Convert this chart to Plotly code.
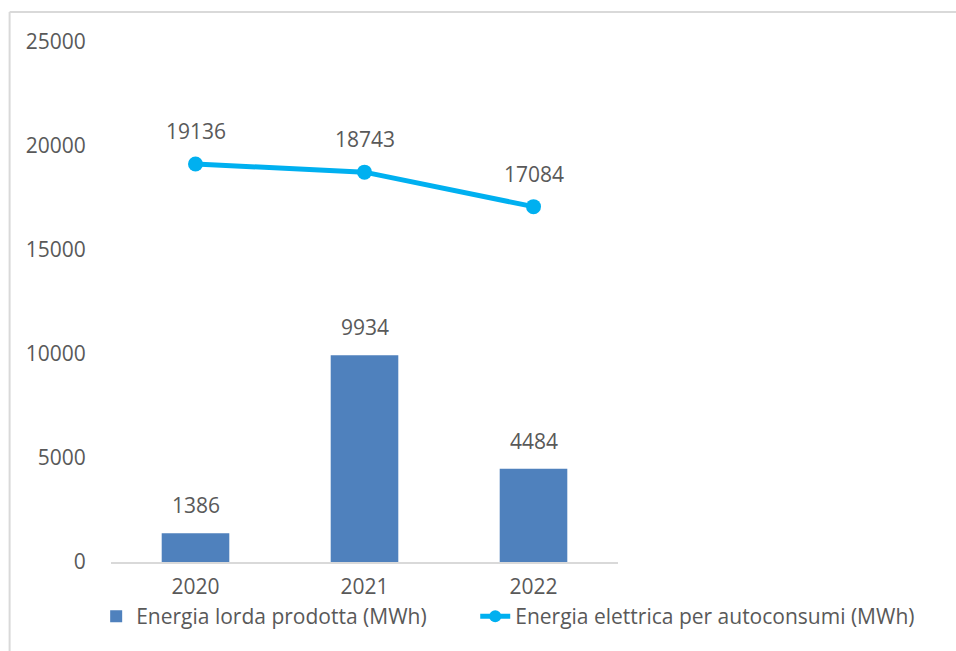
import plotly.graph_objects as go

# Annual energy figures (MWh)
years = ["2020", "2021", "2022"]
energia_lorda = [1386, 9934, 4484]
autoconsumi = [19136, 18743, 17084]
y_ticks = [0, 5000, 10000, 15000, 20000, 25000]

TEXT = "#595959"
FONT = "Open Sans"
FS = 21
NBSP = "\u00a0"

fig = go.Figure()

fig.add_trace(go.Bar(
    x=years, y=energia_lorda,
    # trailing no-break spaces widen the gap before the next legend entry
    name="Energia lorda prodotta (MWh)" + NBSP * 8,
    marker=dict(color="#4F81BD", line=dict(width=0)),
    width=0.4,
))

fig.add_trace(go.Scatter(
    x=years, y=autoconsumi,
    name="Energia elettrica per autoconsumi (MWh)",
    mode="lines+markers",
    line=dict(color="#00B0F0", width=5),
    marker=dict(color="#00B0F0", size=15),
))

# Value labels above bars and line points (x given as category index)
for i, yv in enumerate(energia_lorda):
    fig.add_annotation(x=i, y=yv, text=str(yv), showarrow=False,
                       yanchor="bottom", yshift=12,
                       font=dict(family=FONT, size=FS, color=TEXT))
for i, yv in enumerate(autoconsumi):
    fig.add_annotation(x=i, y=yv, text=str(yv), showarrow=False,
                       yanchor="bottom", yshift=17,
                       font=dict(family=FONT, size=FS, color=TEXT))

# Chart-area frame (top and left edges)
frame = dict(color="#D9D9D9", width=2)
fig.add_shape(type="line", xref="paper", yref="paper",
              x0=-0.2, x1=1.7, y0=1.0577, y1=1.0577, line=frame)
fig.add_shape(type="line", xref="paper", yref="paper",
              x0=-0.2, x1=-0.2, y0=1.0577, y1=-0.2, line=frame)

fig.update_layout(
    width=956, height=651,
    margin=dict(l=111, r=338, t=42, b=89, autoexpand=False),
    paper_bgcolor="white", plot_bgcolor="white",
    font=dict(family=FONT, size=FS, color=TEXT),
    showlegend=True,
    legend=dict(orientation="h",
                x=1.596, xanchor="right", y=-0.105, yanchor="middle",
                font=dict(family=FONT, size=FS, color=TEXT),
                itemsizing="constant", tracegroupgap=0,
                bgcolor="rgba(0,0,0,0)"),
)

fig.update_xaxes(
    type="category",
    showline=True, linecolor="#D9D9D9", linewidth=2,
    showgrid=False, zeroline=False,
    ticks="outside", ticklen=5, tickcolor="rgba(0,0,0,0)",
    tickfont=dict(family=FONT, size=FS, color=TEXT),
)
fig.update_yaxes(
    range=[0, 25000], tickvals=y_ticks, tickformat="d",
    showline=False, showgrid=False, zeroline=False,
    ticks="outside", ticklen=20, tickcolor="rgba(0,0,0,0)",
    tickfont=dict(family=FONT, size=FS, color=TEXT),
)

fig.write_html("out.html")
